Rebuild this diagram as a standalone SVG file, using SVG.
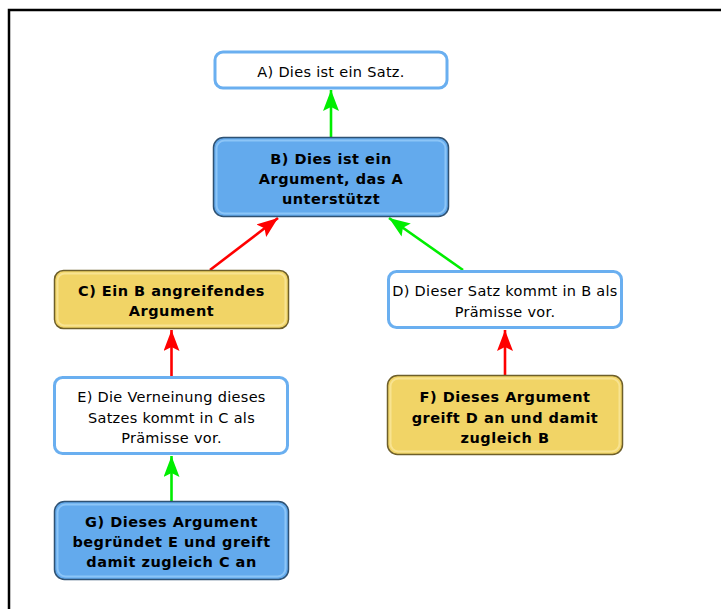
<svg xmlns="http://www.w3.org/2000/svg" width="721" height="609" viewBox="0 0 721 609">
  <style>
    .txt { font-family: "DejaVu Sans", "Liberation Sans", sans-serif; font-size: 14.5px; letter-spacing: 0.3px; fill: #000; text-anchor: middle; }
    .bold { font-weight: bold; letter-spacing: 0.5px; }
    .claim { fill: #ffffff; stroke: #6aaff0; stroke-width: 3; }
    .arg-blue { fill: #63aaed; stroke: #2f5273; stroke-width: 1.5; }
    .arg-blue-in { fill: none; stroke: #8cc5f7; stroke-width: 2; }
    .arg-yellow { fill: #f1d466; stroke: #6e5f2a; stroke-width: 1.5; }
    .arg-yellow-in { fill: none; stroke: #f8e391; stroke-width: 2; }
    .sup { stroke: #00ee00; stroke-width: 2.6; fill: none; marker-end: url(#headG); }
    .att { stroke: #ff0000; stroke-width: 2.6; fill: none; marker-end: url(#headR); }
  </style>
  <defs>
    <marker id="headG" markerUnits="userSpaceOnUse" markerWidth="22" markerHeight="18" refX="21" refY="8" orient="auto">
      <path d="M0,0 L21,8 L0,16 L4,8 Z" fill="#00ee00"/>
    </marker>
    <marker id="headR" markerUnits="userSpaceOnUse" markerWidth="22" markerHeight="18" refX="21" refY="8" orient="auto">
      <path d="M0,0 L21,8 L0,16 L4,8 Z" fill="#ff0000"/>
    </marker>
  </defs>

  <rect width="721" height="609" fill="#ffffff"/>
  <!-- outer frame -->
  <path d="M9,609 V10 H721" fill="none" stroke="#000" stroke-width="2.5"/>

  <!-- connectors -->
  <g id="connectors">
    <line class="sup" x1="331" y1="137" x2="331" y2="90"/>
    <line class="att" x1="210" y1="270" x2="278" y2="218"/>
    <line class="sup" x1="463" y1="270" x2="389" y2="218"/>
    <line class="att" x1="171.5" y1="376" x2="171.5" y2="330"/>
    <line class="att" x1="505" y1="375" x2="505" y2="330"/>
    <line class="sup" x1="171.5" y1="501" x2="171.5" y2="456"/>
  </g>

  <g id="nodeA">
    <rect class="claim" x="215" y="52" width="232" height="36" rx="8"/>
    <text class="txt" x="331" y="77">A) Dies ist ein Satz.</text>
  </g>

  <g id="nodeB">
    <rect class="arg-blue" x="213.5" y="137.5" width="235" height="79" rx="10"/>
    <rect class="arg-blue-in" x="216.5" y="140.5" width="229" height="73" rx="8"/>
    <text class="txt bold" x="331" y="164">B) Dies ist ein</text>
    <text class="txt bold" x="331" y="184">Argument, das A</text>
    <text class="txt bold" x="331" y="204">unterstützt</text>
  </g>

  <g id="nodeC">
    <rect class="arg-yellow" x="54.5" y="270.5" width="234" height="58" rx="9"/>
    <rect class="arg-yellow-in" x="57.5" y="273.5" width="228" height="52" rx="7"/>
    <text class="txt bold" x="171.5" y="296">C) Ein B angreifendes</text>
    <text class="txt bold" x="171.5" y="316">Argument</text>
  </g>

  <g id="nodeD">
    <rect class="claim" x="388.5" y="271.5" width="233" height="56" rx="8"/>
    <text class="txt" x="505" y="296">D) Dieser Satz kommt in B als</text>
    <text class="txt" x="505" y="317">Prämisse vor.</text>
  </g>

  <g id="nodeE">
    <rect class="claim" x="54.5" y="377.5" width="233" height="76" rx="8"/>
    <text class="txt" x="171.5" y="402">E) Die Verneinung dieses</text>
    <text class="txt" x="171.5" y="423">Satzes kommt in C als</text>
    <text class="txt" x="171.5" y="443">Prämisse vor.</text>
  </g>

  <g id="nodeF">
    <rect class="arg-yellow" x="387.5" y="375.5" width="235" height="79" rx="10"/>
    <rect class="arg-yellow-in" x="390.5" y="378.5" width="229" height="73" rx="8"/>
    <text class="txt bold" x="505" y="402">F) Dieses Argument</text>
    <text class="txt bold" x="505" y="423">greift D an und damit</text>
    <text class="txt bold" x="505" y="443">zugleich B</text>
  </g>

  <g id="nodeG">
    <rect class="arg-blue" x="54.5" y="501.5" width="234" height="78" rx="10"/>
    <rect class="arg-blue-in" x="57.5" y="504.5" width="228" height="72" rx="8"/>
    <text class="txt bold" x="171.5" y="527">G) Dieses Argument</text>
    <text class="txt bold" x="171.5" y="547">begründet E und greift</text>
    <text class="txt bold" x="171.5" y="567">damit zugleich C an</text>
  </g>
</svg>
